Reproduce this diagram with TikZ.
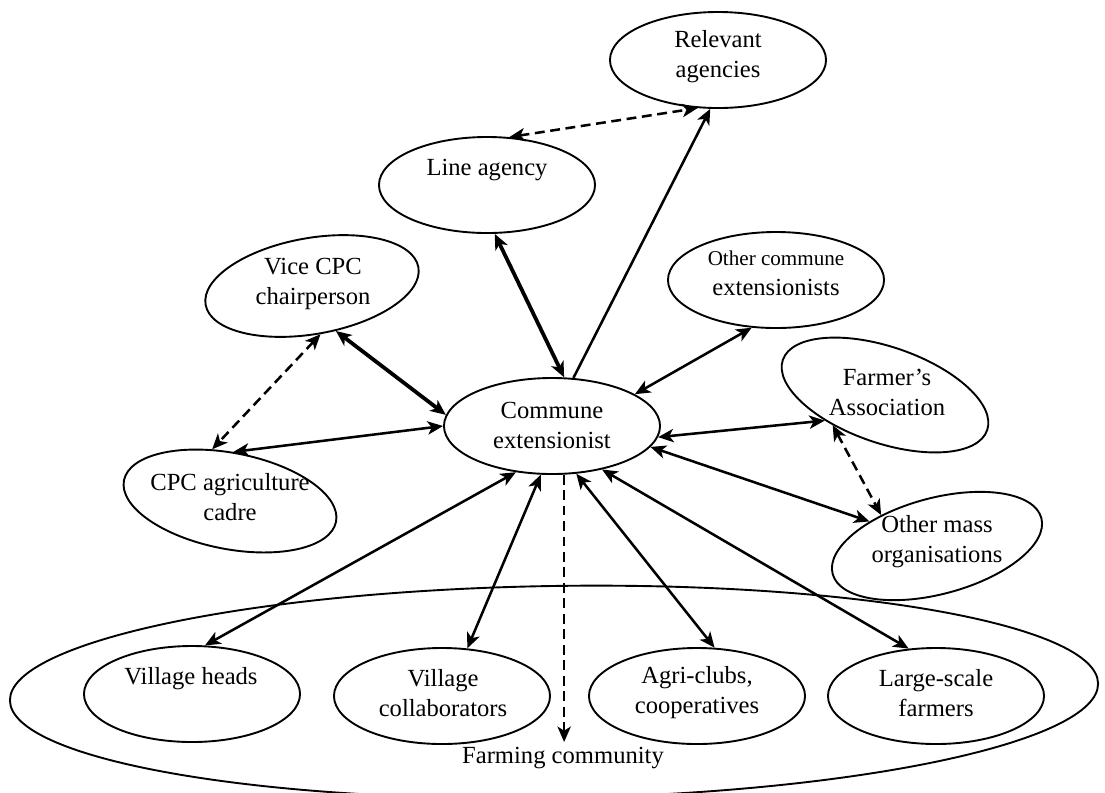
\documentclass[tikz,border=0pt]{standalone}
\usepackage{fontspec}
\setmainfont{Liberation Serif}
\usetikzlibrary{shapes.geometric,arrows.meta}
\begin{document}
\begin{tikzpicture}[x=0.025cm,y=-0.025cm,
  bubble/.style={ellipse, draw, line width=1.35pt, minimum width=5.4cm, minimum height=2.4cm, inner sep=0pt},
  caption/.style={align=center, inner sep=0pt, font=\fontsize{17.5}{21.3}\selectfont},
  link/.style={line width=1.8pt, {Stealth[length=11pt,width=9.5pt,inset=3pt]}-{Stealth[length=11pt,width=9.5pt,inset=3pt]}},
  oneway/.style={line width=1.8pt, -{Stealth[length=11pt,width=9.5pt,inset=3pt]}},
  heavy/.style={line width=2.7pt},
  dashlink/.style={dash pattern=on 7pt off 4pt}
]
\useasboundingbox (0,0) rectangle (1105,792);

% farming community
\node[ellipse, draw, line width=1.35pt, minimum width=27.2cm, minimum height=5.3cm, inner sep=0pt, rotate=0.9] (fcom) at (554,692) {};
\node[caption] (fcom-t) at (563,758) {Farming community};

% ellipses
\node[bubble] (ra) at (718,60) {};
\node[bubble] (la) at (487,185) {};
\node[bubble, rotate=10] (vc) at (312,286) {};
\node[bubble] (oc) at (776,280) {};
\node[bubble] (ce) at (552,426) {};
\node[bubble, rotate=-11] (cc) at (230,501) {};
\node[bubble, rotate=-19] (fa) at (885,395) {};
\node[bubble, rotate=15] (om) at (937,546) {};
\node[bubble] (vh) at (192,694) {};
\node[bubble] (vcol) at (442,696) {};
\node[bubble] (ag) at (697,696) {};
\node[bubble] (ls) at (936,696) {};

% labels
\node[caption] (ra-t) at (718,57) {Relevant\\agencies};
\node[caption] (la-t) at (487,170) {Line agency};
\node[caption] (vc-t) at (313,284) {Vice CPC\\chairperson};
\node[caption] (oc-t) at (776,273) {\fontsize{15}{21.3}\selectfont Other commune\\\fontsize{17.5}{21.3}\selectfont extensionists};
\node[caption] (ce-t) at (552,425) {Commune\\extensionist};
\node[caption] (cc-t) at (230,497) {CPC agriculture\\cadre};
\node[caption] (fa-t) at (887,392) {Farmer’s\\Association};
\node[caption] (om-t) at (937,542) {Other mass\\organisations};
\node[caption] (vh-t) at (191,679) {Village heads};
\node[caption] (vcol-t) at (443,693) {Village\\collaborators};
\node[caption] (ag-t) at (697,693) {Agri-clubs,\\cooperatives};
\node[caption] (ls-t) at (936,693) {Large-scale\\farmers};

% connectors
\draw[link, heavy] (ce.76) -- (la.-81);
\draw[oneway] (ce.66) -- (ra.-99);
\draw[link, dashlink] (la.65) -- (ra.-113);
\draw[link, heavy] (vc.-72) -- (ce.174);
\draw[link, dashlink] (vc.-90) -- (cc.120);
\draw[link] (cc.97) -- (ce.180);
\draw[link] (oc.-117) -- (ce.21);
\draw[link] (fa.-138) -- (ce.-6);
\draw[link, dashlink] (fa.-131) -- (om.136);
\draw[link] (om.145) -- (ce.-12);
\draw[link] (ce.-128) -- (vh.75);
\draw[link] (ce.-103) -- (vcol.62);
\draw[link] (ce.-63) -- (ag.70);
\draw[link] (ce.-41) -- (ls.120);
\coordinate (drop) at (565,742);
\draw[oneway, dashlink] (ce.-76) -- (ce.-76 |- drop);
\end{tikzpicture}
\end{document}
